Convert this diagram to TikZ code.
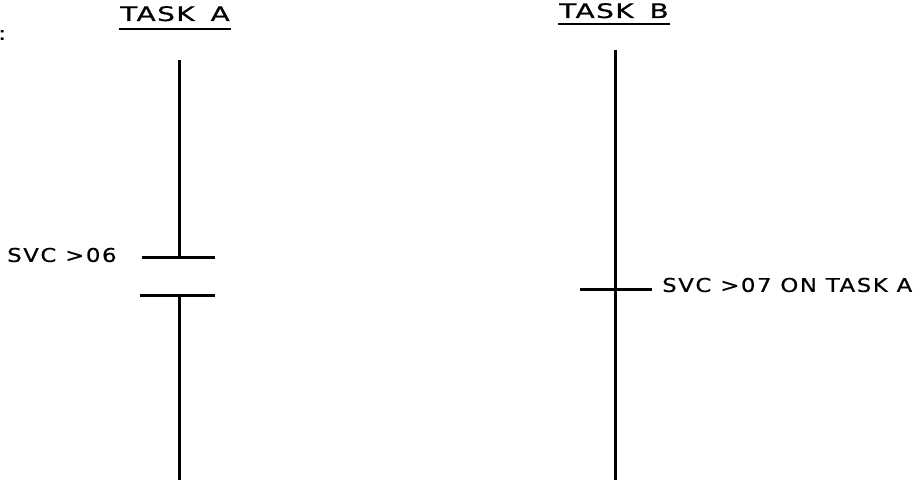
\documentclass[tikz,border=0pt]{standalone}
\usepackage{fontspec}
\setmainfont{DejaVu Sans}[LetterSpace=7,FakeBold=0.6]
\newfontfamily\ttlfont{DejaVu Sans}[LetterSpace=5,FakeBold=0.6]
\begin{document}
\begin{tikzpicture}[x=1pt,y=-1pt,
  lbl/.style={inner sep=0pt,font=\fontsize{19}{19}\selectfont,xscale=1.2},
  ttl/.style={inner sep=0pt,font=\ttlfont\fontsize{20}{20}\selectfont,xscale=1.4},
  bar/.style={line width=3pt}]
\useasboundingbox (0,0) rectangle (919,484);
% titles
\node[ttl,anchor=base] (ta) at (175,21) {TASK\hspace{4pt} A};
\node[ttl,anchor=base] (tb) at (614,18) {TASK\hspace{4pt} B};
\draw[line width=1.8pt] ([xshift=-1pt]ta.base west |- 0,29) -- ([xshift=1pt]ta.base east |- 0,29);
\draw[line width=1.8pt] ([xshift=-1pt]tb.base west |- 0,24) -- ([xshift=1pt]tb.base east |- 0,24);
\node[lbl,anchor=west] (colon) at (-2,35) {:};
% Task A
\coordinate (a1) at (179,60);
\coordinate (a2) at (179,257);
\coordinate (a3) at (179,295);
\coordinate (a4) at (179,480);
\coordinate (b1l) at (142,257);
\coordinate (b1r) at (215,257);
\coordinate (b2l) at (140,295);
\coordinate (b2r) at (215,295);
\draw[bar] (a1) -- (a2);
\draw[bar] (a3) -- (a4);
\draw[bar] (b1l) -- (b1r);
\draw[bar] (b2l) -- (b2r);
\node[lbl,anchor=west] (svc6) at (7,255) {SVC >06};
% Task B
\coordinate (t1) at (615,50);
\coordinate (t2) at (615,480);
\coordinate (cl) at (580,289);
\coordinate (cr) at (652,289);
\draw[bar] (t1) -- (t2);
\draw[bar] (cl) -- (cr);
\node[lbl,anchor=west] (svc7) at (662,285) {SVC >07 ON TASK A};
\end{tikzpicture}
\end{document}
